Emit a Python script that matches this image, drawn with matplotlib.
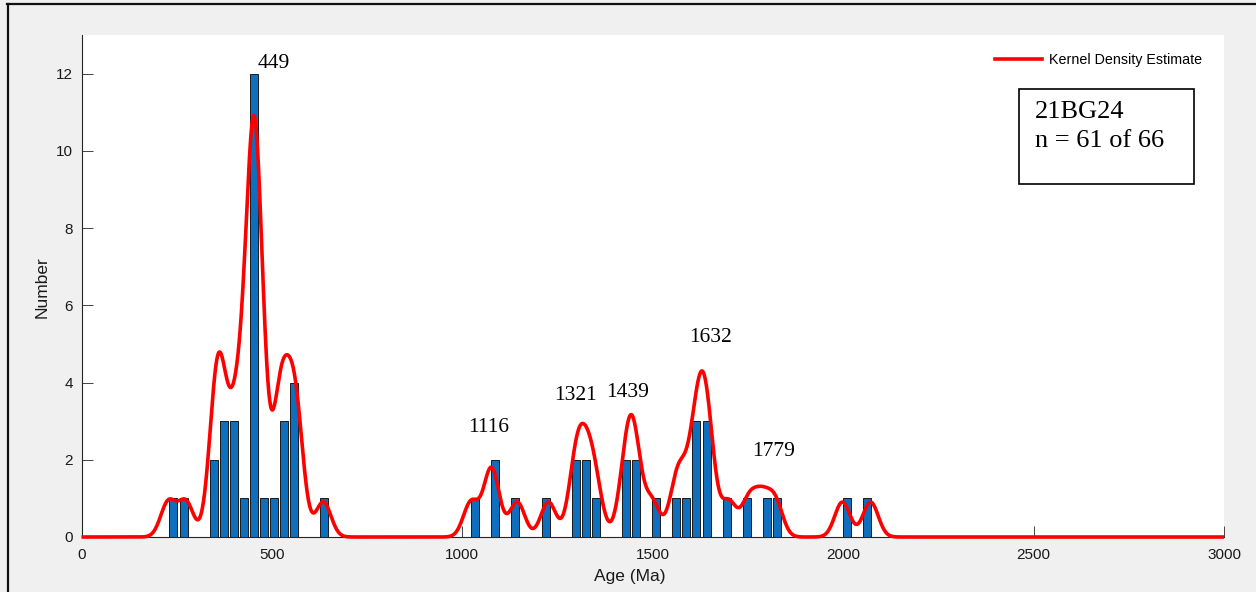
import numpy as np
import matplotlib
matplotlib.use("Agg")
import matplotlib.pyplot as plt
from matplotlib.patches import Rectangle
from matplotlib.lines import Line2D

# Histogram of detrital zircon ages (bin width ~26.4 Ma)
bin_width = 26.41
bin_centers = [241.5, 267.9, 347.1, 373.6, 400.0, 426.4, 452.8, 479.2, 505.6,
               532.0, 558.4, 637.7, 1033.8, 1086.6, 1139.4, 1218.7, 1297.9,
               1324.3, 1350.7, 1429.9, 1456.4, 1509.2, 1562.0, 1588.4, 1614.8,
               1641.2, 1694.0, 1746.9, 1799.7, 1826.1, 2010.9, 2063.8]
counts = [1, 1, 2, 3, 3, 1, 12, 1, 1, 3, 4, 1, 1, 2, 1, 1, 2, 2, 1,
          2, 2, 1, 1, 1, 3, 3, 1, 1, 1, 1, 1, 1]

# Individual grain ages (Ma) used for the kernel density estimate
ages = [228, 274, 350, 352, 360, 362, 366, 387, 408, 410, 417,
        441, 443, 446, 448, 450, 452, 454, 456, 458, 460, 462, 465,
        479, 518, 521, 524, 531, 552, 557, 563, 569, 635,
        1023, 1073, 1080, 1144, 1226, 1297, 1301, 1320, 1334, 1351,
        1425, 1440, 1448, 1454, 1498, 1561, 1575, 1608, 1614, 1625,
        1636, 1642, 1647, 1699, 1752, 1786, 1821, 1998, 2072]

peak_labels = ["449", "1116", "1321", "1439", "1632", "1779"]
sample_name = "21BG24"
sample_count = "n = 61 of 66"

# KDE settings: Gaussian kernel, scaled to histogram counts
bandwidth = 20.0
kde_scale = 45.3

W, H = 1256, 592
fig = plt.figure(figsize=(W / 100, H / 100), dpi=100, facecolor="#f0f0f0")


def fx(px):
    return px / W


def fy(py):
    return 1 - py / H


ax = fig.add_axes([fx(81.5), fy(537), (1224 - 81.5) / W, (537 - 35) / H])
ax.set_facecolor("white")

ax.bar(bin_centers, counts, width=0.8 * bin_width, color="#0f6fbf",
       edgecolor="#1a1a1a", linewidth=0.7, zorder=2)

xg = np.linspace(0, 3000, 3001)
a = np.asarray(ages, dtype=float)
kde = kde_scale * (np.exp(-(xg[None, :] - a[:, None]) ** 2 / (2 * bandwidth ** 2))
                   / (bandwidth * np.sqrt(2 * np.pi))).sum(0)
ax.plot(xg, kde, color="#ff0000", lw=2.6, zorder=3, clip_on=False,
        solid_capstyle="butt")

ax.set_xlim(0, 3000)
ax.set_ylim(0, 13)
ax.set_xticks(np.arange(0, 3001, 500))
ax.set_yticks(np.arange(0, 13, 2))
for s in ("top", "right"):
    ax.spines[s].set_visible(False)
for s in ("left", "bottom"):
    ax.spines[s].set_color("#262626")
    ax.spines[s].set_linewidth(0.8)
ax.tick_params(direction="in", length=8, width=0.6, color="#262626",
               labelsize=11, labelcolor="#1a1a1a")
ax.tick_params(axis="x", pad=8)
ax.tick_params(axis="y", pad=6)
for lab in ax.get_xticklabels() + ax.get_yticklabels():
    lab.set_family("Liberation Sans")

fig.text(fx(630), fy(577), "Age (Ma)", ha="center", va="center",
         fontsize=12.5, family="Liberation Sans", color="#1a1a1a")
fig.text(fx(42), fy(287), "Number", ha="center", va="center", rotation=90,
         fontsize=12.5, family="Liberation Sans", color="#1a1a1a")

# Peak age annotations (pixel positions of the text centres)
label_px = [(274, 64), (489, 427), (576, 395), (628, 392.5), (711, 337.5), (774, 452)]
for txt, (px, py) in zip(peak_labels, label_px):
    fig.text(fx(px), fy(py), txt, ha="center", va="center", fontsize=15.5,
             family="Liberation Serif", color="black")

# Legend without frame
ax.legend(handles=[Line2D([], [], color="#ff0000", lw=2.6)],
          labels=["Kernel Density Estimate"], frameon=False,
          loc="center left",
          bbox_to_anchor=((995 - 81.5) / 1142.5, (537 - 60) / 502),
          borderpad=0, borderaxespad=0, handlelength=3.3, handletextpad=0.45,
          prop={"family": "Liberation Sans", "size": 10.3})

# Sample info box
fig.patches.append(Rectangle((fx(1019), fy(184)), (1194 - 1019) / W, (184 - 89.5) / H,
                             transform=fig.transFigure, facecolor="white",
                             edgecolor="black", linewidth=1.2, zorder=5))
fig.text(fx(1035), fy(112), sample_name, ha="left", va="center", fontsize=19,
         family="Liberation Serif", zorder=6)
fig.text(fx(1035), fy(141), sample_count, ha="left", va="center", fontsize=19,
         family="Liberation Serif", zorder=6)

# Window frame edges
fig.add_artist(Line2D([fx(7), fx(1256)], [fy(3.5), fy(3.5)], color="#111111", lw=1.6,
                      transform=fig.transFigure))
fig.add_artist(Line2D([fx(7.5), fx(7.5)], [fy(3.5), fy(592)], color="#111111", lw=1.6,
                      transform=fig.transFigure))

fig.savefig("out.png", dpi=100, facecolor=fig.get_facecolor())
